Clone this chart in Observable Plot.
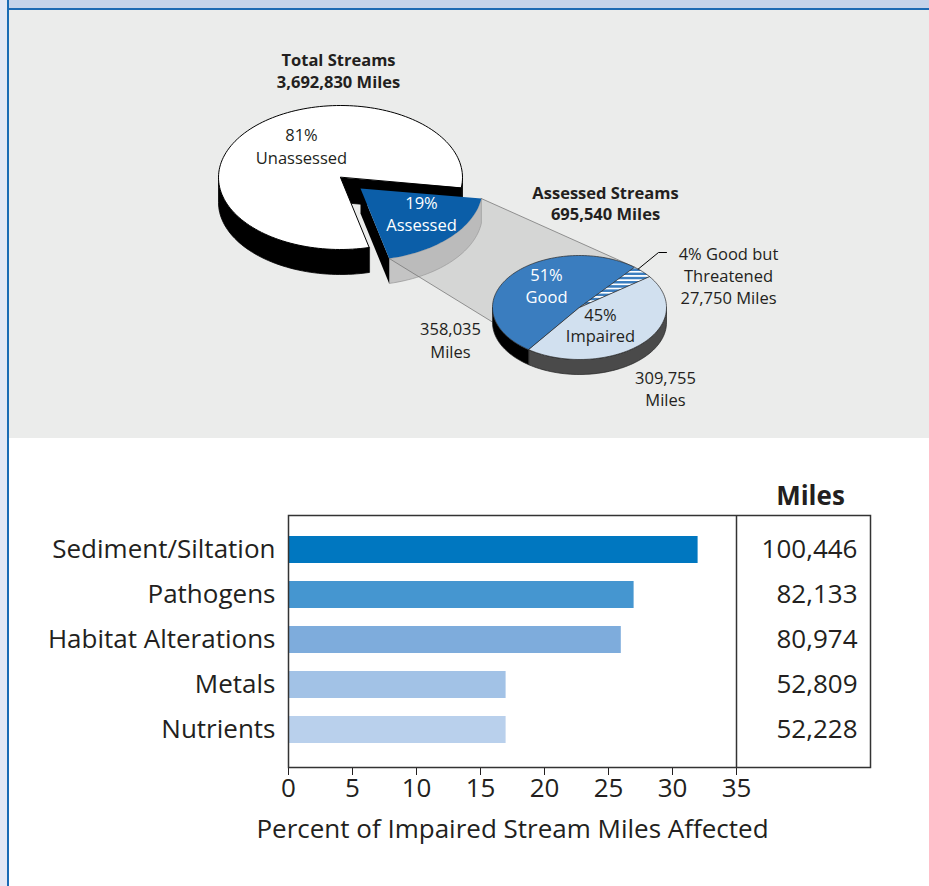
<!DOCTYPE html>
<html>
<head>
<meta charset="utf-8">
<script src="https://cdn.jsdelivr.net/npm/d3@7"></script>
<script src="https://cdn.jsdelivr.net/npm/@observablehq/plot@0.6"></script>
<style>
  body { margin: 0; width: 929px; height: 886px; position: relative; overflow: hidden; background: #fff; font-family: "Open Sans", sans-serif; }
  #strip { position: absolute; left: 0; top: 0; width: 7px; height: 886px; background: #e3e8f5; border-right: 2px solid #1a6bb5; }
  #header { position: absolute; left: 9px; top: 0; width: 920px; height: 8px; background: #c5d3ea; border-bottom: 2px solid #1d6ab3; }
  #top { position: absolute; left: 9px; top: 10px; width: 920px; height: 428px; background: #ebeceb; }
  #bottom { position: absolute; left: 9px; top: 438px; }
</style>
</head>
<body>
<div id="strip"></div>
<div id="header"></div>
<div id="top"></div>
<div id="bottom"></div>
<script>
// ---------------- DATA ----------------
const totalCategories = ["Unassessed", "Assessed"];
const totalPercents = [81, 19];
const totalMiles = 3692830;

const assessedCategories = ["Good", "Good but Threatened", "Impaired"];
const assessedPercents = [51, 4, 45];
const assessedMiles = [358035, 27750, 309755];
const assessedTotalMiles = 695540;

const causes = ["Sediment/Siltation", "Pathogens", "Habitat Alterations", "Metals", "Nutrients"];
const causePercents = [32, 27, 26, 17, 17];
const causeMiles = [100446, 82133, 80974, 52809, 52228];
const xTicks = [0, 5, 10, 15, 20, 25, 30, 35];
const xDomain = [0, 35];
const xLabel = "Percent of Impaired Stream Miles Affected";

// ---------------- STYLE / LAYOUT ----------------
const FONT = "'Open Sans', sans-serif";
const INK = "#231f20";
const barColors = ["#0077c0", "#4596d0", "#7eacdc", "#a2c2e6", "#b9d0ec"];
const bigColors = { Unassessed: "#ffffff", Assessed: "#0b5ea8" };
const bigSide = { Unassessed: "#000000", Assessed: "#c4c4c4" };
const bigWall = { Unassessed: "#000000", Assessed: "#000000" };
const smallColors = { "Good": "#3a7dbf", "Good but Threatened": "url(#hatch)", "Impaired": "#d1e0ef" };
const smallSide = { "Good": "#000000", "Good but Threatened": "#3a7dbf", "Impaired": "#4a4a4a" };

// pie geometry in page pixels
const big = { cx: 340, cy: 177, rx: 122, ry: 72, depth: 25, start: 76.4, explode: [20, 11] };
const small = { cx: 579, cy: 307, rx: 87, ry: 52, depth: 15, start: 125.6 };
const connectAngles = [308, 160];

// ---------------- GEOMETRY HELPERS ----------------
function pt(g, a, dy = 0, off = [0, 0]) {
  const r = a * Math.PI / 180;
  return { x: g.cx + off[0] + g.rx * Math.cos(r), y: g.cy + off[1] + g.ry * Math.sin(r) + dy };
}
function arc(g, a0, a1, dy = 0, off = [0, 0]) {
  const n = Math.max(2, Math.ceil(Math.abs(a1 - a0) / 2));
  return d3.range(n + 1).map(i => pt(g, a0 + (a1 - a0) * i / n, dy, off));
}
function sector(g, a0, a1, off = [0, 0]) {
  return [{ x: g.cx + off[0], y: g.cy + off[1] }, ...arc(g, a0, a1, 0, off)];
}
function side(g, a0, a1, off = [0, 0]) {
  return [...arc(g, a0, a1, 0, off), ...arc(g, a1, a0, g.depth, off)];
}
function wall(g, a, off = [0, 0]) {
  const c = { x: g.cx + off[0], y: g.cy + off[1] };
  const p = pt(g, a, 0, off);
  return [c, p, { x: p.x, y: p.y + g.depth }, { x: c.x, y: c.y + g.depth }];
}
function frontParts(a0, a1) {
  const out = [];
  for (const k of [-360, 0, 360]) {
    const s = Math.max(a0, k), e = Math.min(a1, k + 180);
    if (e > s) out.push([s, e]);
  }
  return out;
}
function sliceAngles(percents, start) {
  let a = start;
  return percents.map(p => { const a0 = a; a += p * 3.6; return [a0, a]; });
}

const bigAngles = sliceAngles(totalPercents, big.start);
const smallAngles = sliceAngles(assessedPercents, small.start);

// ---------------- SHAPES ----------------
const shapes = [];
const add = (pts, fill, stroke = "none", strokeWidth = 0, fillOpacity = 1) => shapes.push({ pts, fill, stroke, strokeWidth, fillOpacity });

// big pie: non-exploded slices first
totalCategories.forEach((c, i) => {
  const [a0, a1] = bigAngles[i];
  if (c === "Assessed") return;
  frontParts(a0, a1).forEach(([s, e]) => add(side(big, s, e), bigSide[c], "#000", 0.8));
  if (Math.cos(a1 * Math.PI / 180) > 0) add(wall(big, a1), bigWall[c], "#000", 0.8);
  if (Math.sin((a0 - 90) * Math.PI / 180) > 0) add(wall(big, a0), bigWall[c], "#000", 0.8);
  add(sector(big, a0, a1), bigColors[c], "#000", 1);
});
// exploded slice
const ex = totalCategories.indexOf("Assessed");
const [ea0, ea1] = bigAngles[ex];
frontParts(ea0, ea1).forEach(([s, e]) => add(side(big, s, e, big.explode), bigSide.Assessed, "#8a8a8a", 0.6));
if (Math.cos(ea1 * Math.PI / 180) > 0) add(wall(big, ea1, big.explode), bigWall.Assessed);
if (Math.sin((ea0 - 90) * Math.PI / 180) > 0) add(wall(big, ea0, big.explode), bigWall.Assessed);
add(sector(big, ea0, ea1, big.explode), bigColors.Assessed);

// connector (translucent zoom band)
const cA = pt(big, ea0, 0, big.explode), cB = pt(big, ea1, 0, big.explode);
const sA = pt(small, connectAngles[0]), sB = pt(small, connectAngles[1]);
add([cA, sA, { x: small.cx, y: small.cy }, sB, cB, ...arc(big, ea1, ea0, 0, big.explode)], "#a8a8a8", "none", 0, 0.32);
const connectorEdges = [[cA, sA], [cB, sB]];

// small pie sides
assessedCategories.forEach((c, i) => {
  const [a0, a1] = smallAngles[i];
  frontParts(a0, a1).forEach(([s, e]) => add(side(small, s, e), smallSide[c], "#222", 0.7));
});
// small pie tops
assessedCategories.forEach((c, i) => {
  const [a0, a1] = smallAngles[i];
  add(sector(small, a0, a1), smallColors[c], "#2a2a2a", 0.7);
});

// leader line for the thin slice
const thr = assessedCategories.indexOf("Good but Threatened");
const leaderStart = pt(small, (smallAngles[thr][0] + smallAngles[thr][1]) / 2 - 4);
const leader = [leaderStart, { x: 658, y: 252 }, { x: 666, y: 252 }];

// ---------------- LABELS ----------------
const fmt = d3.format(",");
const pieLabels = [
  { x: 338, y: 60, text: "Total Streams", bold: true },
  { x: 338, y: 82, text: `${fmt(totalMiles)} Miles`, bold: true },
  { x: 301, y: 135, text: `${totalPercents[0]}%` },
  { x: 301, y: 158, text: totalCategories[0] },
  { x: 421, y: 203, text: `${totalPercents[1]}%`, color: "#fff" },
  { x: 421, y: 225, text: totalCategories[1], color: "#fff" },
  { x: 605, y: 193, text: "Assessed Streams", bold: true },
  { x: 605, y: 214, text: `${fmt(assessedTotalMiles)} Miles`, bold: true },
  { x: 546, y: 275, text: `${assessedPercents[0]}%`, color: "#fff" },
  { x: 546, y: 297, text: assessedCategories[0], color: "#fff" },
  { x: 600, y: 315, text: `${assessedPercents[2]}%` },
  { x: 600, y: 336, text: assessedCategories[2] },
  { x: 728, y: 254, text: `${assessedPercents[1]}% Good but` },
  { x: 728, y: 276, text: "Threatened" },
  { x: 728, y: 298, text: `${fmt(assessedMiles[1])} Miles` },
  { x: 450, y: 329, text: fmt(assessedMiles[0]) },
  { x: 450, y: 352, text: "Miles" },
  { x: 665, y: 378, text: fmt(assessedMiles[2]) },
  { x: 665, y: 400, text: "Miles" }
];

// ---------------- TOP PANEL ----------------
const topMarks = shapes.map(s => Plot.line(s.pts, {
  x: "x", y: "y", curve: "linear-closed",
  fill: s.fill, fillOpacity: s.fillOpacity, stroke: s.stroke, strokeWidth: s.strokeWidth
}));
const connIdx = shapes.findIndex(s => s.fillOpacity < 1);
const edgeMarks = connectorEdges.map(e => Plot.line(e, { x: "x", y: "y", stroke: "#7a7a7a", strokeWidth: 0.8 }));
topMarks.splice(connIdx + 1, 0, ...edgeMarks);
topMarks.push(Plot.line(leader, { x: "x", y: "y", stroke: "#000", strokeWidth: 1 }));
topMarks.push(Plot.text(pieLabels.filter(d => !d.bold), {
  x: "x", y: "y", text: "text", fill: d => d.color || INK,
  fontSize: 16.5, textAnchor: "middle", lineAnchor: "middle"
}));
topMarks.push(Plot.text(pieLabels.filter(d => d.bold), {
  x: "x", y: "y", text: "text", fill: INK, fontWeight: "bold",
  fontSize: 16.5, textAnchor: "middle", lineAnchor: "middle"
}));

const topPlot = Plot.plot({
  width: 920, height: 428, margin: 0,
  x: { domain: [9, 929], range: [0, 920], axis: null },
  y: { domain: [10, 438], range: [0, 428], axis: null },
  style: { background: "transparent", fontFamily: FONT, overflow: "visible" },
  marks: topMarks
});
// hatch pattern for the thin slice
const NS = "http://www.w3.org/2000/svg";
const defs = document.createElementNS(NS, "defs");
const pat = document.createElementNS(NS, "pattern");
pat.setAttribute("id", "hatch");
pat.setAttribute("patternUnits", "userSpaceOnUse");
pat.setAttribute("width", "8");
pat.setAttribute("height", "4.2");
const r1 = document.createElementNS(NS, "rect");
r1.setAttribute("width", "8"); r1.setAttribute("height", "4.2"); r1.setAttribute("fill", smallColors["Good"]);
const r2 = document.createElementNS(NS, "rect");
r2.setAttribute("width", "8"); r2.setAttribute("height", "1.7"); r2.setAttribute("fill", "#ffffff");
pat.appendChild(r1); pat.appendChild(r2); defs.appendChild(pat);
topPlot.insertBefore(defs, topPlot.firstChild);
document.getElementById("top").appendChild(topPlot);

// ---------------- BAR CHART ----------------
const rows = causes.map((c, i) => ({ cause: c, pct: causePercents[i], miles: causeMiles[i] }));
const barPlot = Plot.plot({
  width: 920, height: 448,
  marginLeft: 279, marginRight: 59, marginTop: 77, marginBottom: 119,
  style: { fontFamily: FONT, fontSize: "26px", color: INK, background: "transparent", overflow: "visible" },
  x: { domain: xDomain, range: [279, 727], ticks: xTicks, tickSize: 8, tickPadding: 3, label: null },
  y: { domain: causes, paddingInner: 0.4, paddingOuter: 0.48, align: 0.46, label: null, tickSize: 0, tickPadding: 13 },
  color: { domain: causes, range: barColors },
  marks: [
    Plot.barX(rows, { x: "pct", y: "cause", fill: "cause" }),
    Plot.frame({ stroke: "#333", strokeWidth: 1.5 }),
    Plot.ruleX([xDomain[1]], { stroke: "#333", strokeWidth: 1.5 }),
    Plot.text(rows, { y: "cause", text: d => fmt(d.miles), frameAnchor: "right", dx: -13, textAnchor: "end", lineAnchor: "middle", fill: INK }),
    Plot.text(["Miles"], { text: d => d, frameAnchor: "top-right", dx: -60, dy: -19, textAnchor: "middle", lineAnchor: "middle", fontWeight: "bold", fill: INK }),
    Plot.text([xLabel], { text: d => d, x: () => d3.mean(xDomain), frameAnchor: "bottom", dy: 62, textAnchor: "middle", lineAnchor: "middle", fill: INK })
  ]
});
document.getElementById("bottom").appendChild(barPlot);
</script>
</body>
</html>
